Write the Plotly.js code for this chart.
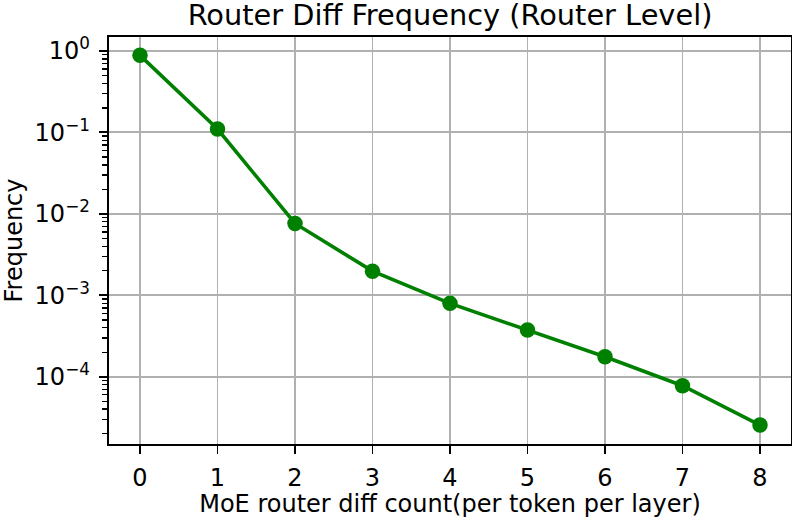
<!DOCTYPE html>
<html>
<head>
<meta charset="utf-8">
<script src="https://cdn.plot.ly/plotly-3.0.1.min.js"></script>
<style>html,body{margin:0;padding:0;background:#fff;}#chart{width:792px;height:518px;}</style>
</head>
<body>
<div id="chart"></div>
<script>
var diffCounts = [0, 1, 2, 3, 4, 5, 6, 7, 8];
var frequencies = [0.885, 0.110, 0.00762, 0.00198, 0.000796, 0.000374, 0.000176, 0.0000776, 0.0000255];
var xTickText = ["0", "1", "2", "3", "4", "5", "6", "7", "8"];
var yTickVals = [1, 0.1, 0.01, 0.001, 0.0001];
var yTickText = ["10<sup>0</sup>", "10<sup>\u22121</sup>", "10<sup>\u22122</sup>", "10<sup>\u22123</sup>", "10<sup>\u22124</sup>"];
var titleText = "Router Diff Frequency (Router Level)";
var xTitle = "MoE router diff count(per token per layer)";
var yTitle = "Frequency";

var font = "DejaVu Sans, sans-serif";
var trace = {
  x: diffCounts,
  y: frequencies,
  type: "scatter",
  mode: "lines+markers",
  line: {color: "#008000", width: 3.6},
  marker: {color: "#008000", size: 15.5},
  hoverinfo: "skip"
};
var layout = {
  width: 792, height: 518,
  margin: {l: 109, r: 1, t: 37, b: 74, pad: 0},
  paper_bgcolor: "#ffffff", plot_bgcolor: "#ffffff",
  showlegend: false,
  font: {family: font, color: "#000000", size: 24},
  title: {text: titleText, font: {family: font, size: 28.8, color: "#000"}, x: 0.5, xanchor: "center", xref: "paper", y: 0.972, yref: "container", yanchor: "middle"},
  xaxis: {
    range: [-0.4, 8.4], tickmode: "array", tickvals: diffCounts, ticktext: xTickText,
    showgrid: true, gridcolor: "#b0b0b0", gridwidth: 1.9,
    showline: true, linecolor: "#000", linewidth: 1.9, mirror: true,
    ticks: "outside", ticklen: 8.4, tickwidth: 1.9, tickcolor: "#000",
    ticklabelstandoff: 3,
    tickfont: {family: font, size: 24, color: "#000"},
    zeroline: false,
    title: {text: xTitle, font: {family: font, size: 24, color: "#000"}, standoff: 9}
  },
  yaxis: {
    type: "log", range: [-4.826, 0.172],
    tickmode: "array", tickvals: yTickVals, ticktext: yTickText,
    showgrid: true, gridcolor: "#b0b0b0", gridwidth: 1.9,
    showline: true, linecolor: "#000", linewidth: 1.9, mirror: true,
    ticks: "outside", ticklen: 8.4, tickwidth: 1.9, tickcolor: "#000",
    ticklabelstandoff: 4,
    tickfont: {family: font, size: 24, color: "#000"},
    minor: {dtick: "D1", ticks: "outside", ticklen: 4.8, tickwidth: 1.4, tickcolor: "#000", showgrid: false},
    zeroline: false,
    title: {text: yTitle, font: {family: font, size: 24, color: "#000"}, standoff: 14}
  }
};
Plotly.newPlot("chart", [trace], layout, {staticPlot: true, displayModeBar: false});
</script>
</body>
</html>
